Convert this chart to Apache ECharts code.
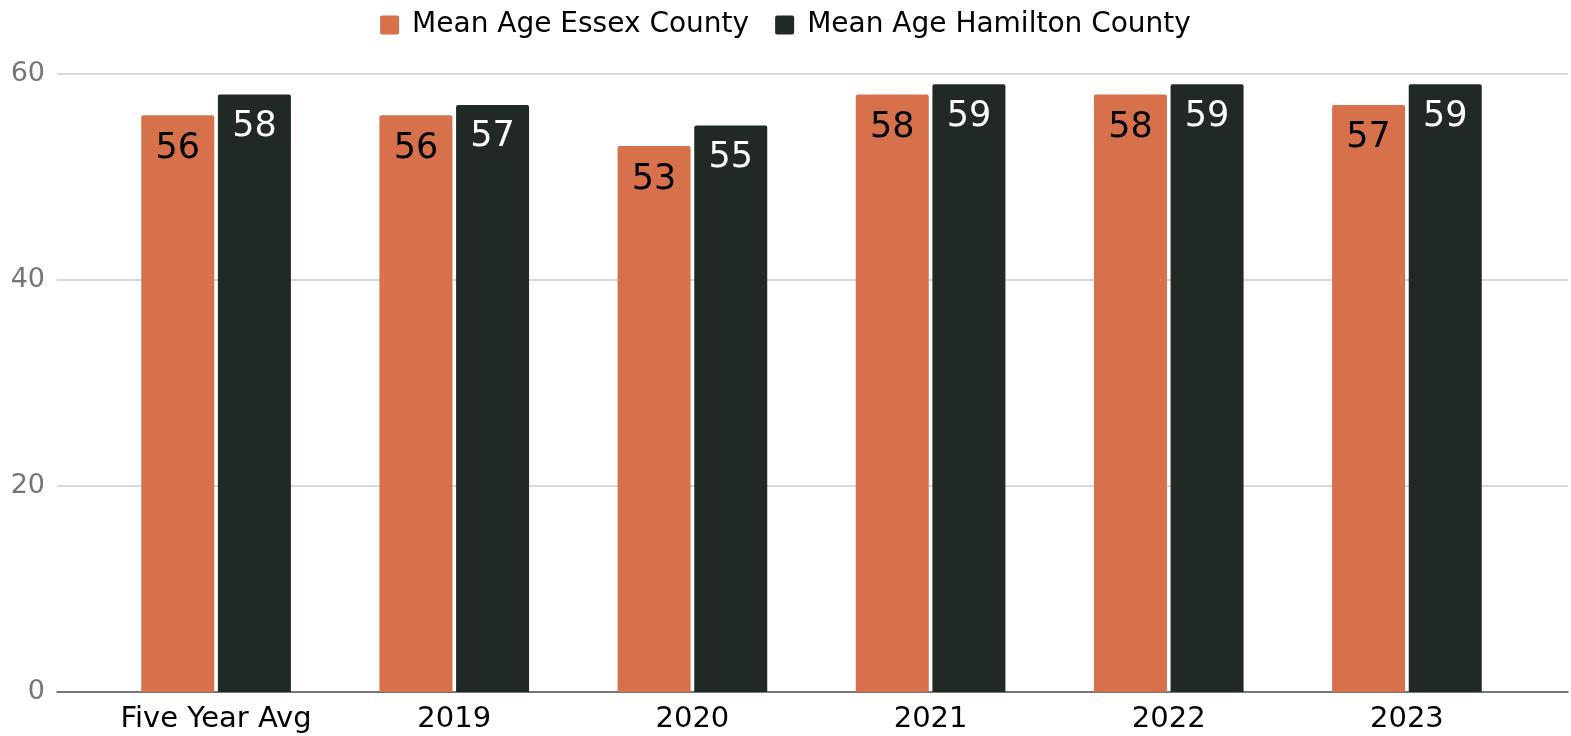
<!DOCTYPE html>
<html><head><meta charset="utf-8">
<script src="https://cdn.jsdelivr.net/npm/echarts@6/dist/echarts.min.js"></script>
<style>html,body{margin:0;padding:0;background:#fff}#c{width:1571px;height:736px}</style>
</head><body><div id="c"></div>
<script>
const categories = ["Five Year Avg", "2019", "2020", "2021", "2022", "2023"];
const essex = [56, 56, 53, 58, 58, 57];
const hamilton = [58, 57, 55, 59, 59, 59];
const seriesNames = ["Mean Age Essex County", "Mean Age Hamilton County"];
const yTicks = [0, 20, 40, 60];

const font = "DejaVu Sans";
const chart = echarts.init(document.getElementById('c'));
chart.setOption({
  animation: false,
  textStyle: {fontFamily: font},
  legend: {
    top: 6, left: 'center', itemWidth: 19, itemHeight: 19, itemGap: 26,
    textStyle: {fontSize: 28, color: '#000', fontFamily: font, padding: [0, 0, 0, 8]},
    icon: 'path://M2,0 L17,0 Q19,0 19,2 L19,17 Q19,19 17,19 L2,19 Q0,19 0,17 L0,2 Q0,0 2,0 Z',
    data: seriesNames
  },
  grid: [
    {left: 57, right: 3, top: 74, bottom: 44, containLabel: false},
    {left: 97, right: 45, top: 74, bottom: 44, containLabel: false}
  ],
  xAxis: [
    {gridIndex: 0, type: 'value', min: 0, max: 1, show: true,
     axisLine: {show: true, onZero: false, lineStyle: {color: '#555', width: 1.5}},
     axisTick: {show: false}, axisLabel: {show: false}, splitLine: {show: false}},
    {gridIndex: 1, type: 'category', data: categories,
     axisLine: {show: false}, axisTick: {show: false},
     axisLabel: {interval: 0, fontSize: 29, color: '#000', margin: 13, fontFamily: font}}
  ],
  yAxis: [
    {gridIndex: 0, type: 'value', min: yTicks[0], max: yTicks[yTicks.length-1], interval: 20,
     axisLine: {show: false}, axisTick: {show: false},
     axisLabel: {fontSize: 27, color: '#757575', margin: 12, fontFamily: font},
     splitLine: {lineStyle: {color: '#ccc', width: 1.5}}},
    {gridIndex: 1, type: 'value', min: yTicks[0], max: yTicks[yTicks.length-1], interval: 20,
     show: false, splitLine: {show: false}}
  ],
  series: [
    {name: seriesNames[0], type: 'bar', xAxisIndex: 1, yAxisIndex: 1, data: essex,
     barWidth: 73, barGap: '5%',
     itemStyle: {color: '#D6714C', borderRadius: [2,2,0,0]},
     label: {show: true, position: 'insideTop', distance: 16, fontSize: 35, color: '#000', fontFamily: font}},
    {name: seriesNames[1], type: 'bar', xAxisIndex: 1, yAxisIndex: 1, data: hamilton,
     barWidth: 73, barGap: '5%',
     itemStyle: {color: '#202924', borderRadius: [2,2,0,0]},
     label: {show: true, position: 'insideTop', distance: 15, fontSize: 35, color: '#fff', fontFamily: font}}
  ]
});
</script></body></html>
